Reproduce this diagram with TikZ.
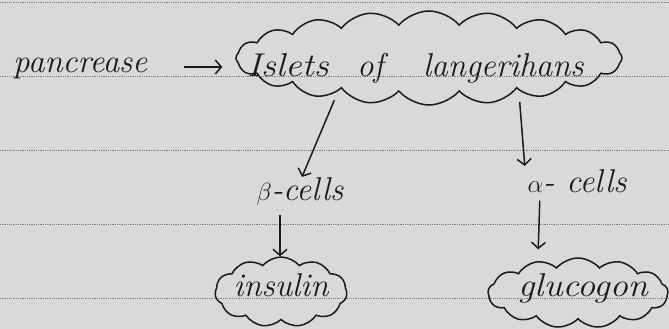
\documentclass[tikz,border=0pt]{standalone}
\usetikzlibrary{shapes.symbols,arrows.meta}
\definecolor{paper}{HTML}{D9D9DC}
\definecolor{rule}{HTML}{7E7E82}
\definecolor{ink}{HTML}{1A1A1A}
\tikzset{
  hand/.style={font=\fontsize{33}{36}\selectfont\itshape, text=ink, inner sep=0pt},
  puff/.style={cloud, cloud puffs=#1, draw=ink, line width=1.5pt, cloud puff arc=100, inner sep=0pt},
  harrow/.style={draw=ink, line width=1.5pt, -{Straight Barb[length=6pt,width=14pt]}},
  ruled/.style={draw=rule, line width=0.8pt, densely dotted}
}
\begin{document}
\begin{tikzpicture}[x=1pt,y=-1pt]
\fill[paper] (0,0) rectangle (669,329);
\useasboundingbox (0,0) rectangle (669,329);
\foreach \yy in {2,76,150,224,298} \draw[ruled] (0,\yy) -- (669,\yy);
\node[hand, anchor=base west] (pan) at (13,73) {pancrease};
\node[puff=20, minimum width=386pt, minimum height=94pt] (isl) at (429,58) {};
\node[hand, anchor=base west] (isltext) at (247,76) {\makebox[110pt][l]{\scalebox{1.12}[1]{Islets}}\makebox[66pt][l]{of}langerihans};
\node[hand, anchor=base] (beta) at (300,200) {$\beta$-cells};
\node[hand, anchor=base] (alpha) at (577,192) {$\alpha$- cells};
\node[puff=11, minimum width=132pt, minimum height=70pt] (ins) at (281,292) {};
\node[hand, anchor=base] (instext) at (281,296) {insulin};
\node[puff=13, minimum width=180pt, minimum height=70pt] (glu) at (578,293) {};
\node[hand, anchor=base] (glutext) at (583,296) {\scalebox{1.1}[1]{glucogon}};
\draw[harrow, shorten <=37pt, shorten >=13pt] (pan.east |- 0,67) -- (isl.west |- 0,67);
\draw[harrow, shorten <=-6pt] (isl.south -| 332,0) -- (beta.north -| 302,0);
\draw[harrow, shorten <=-4pt, shorten >=3pt] (isl.south -| 520,0) -- (alpha.north -| 525,0);
\draw[harrow, shorten <=10pt] (beta.south -| 280,0) -- (ins.north -| 280,0);
\draw[harrow, shorten <=8pt, shorten >=8pt] (alpha.south -| 540,0) -- (glu.north -| 538,0);
\end{tikzpicture}
\end{document}
